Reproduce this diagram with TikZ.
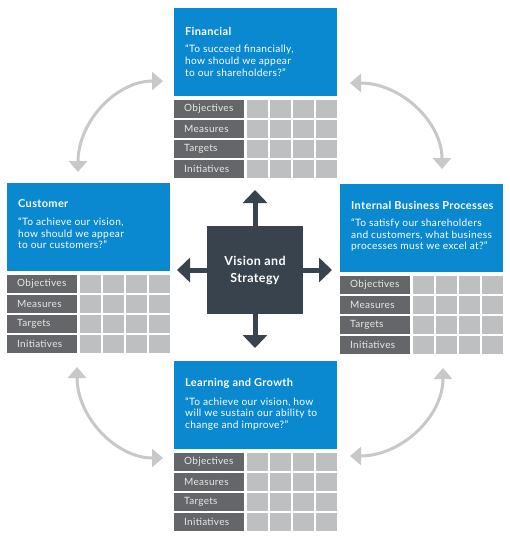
\documentclass[tikz,border=0pt]{standalone}
\usepackage{fontspec}
\setmainfont{Lato}[LetterSpace=3]
\usetikzlibrary{arrows.meta,calc}
\definecolor{bscblue}{HTML}{0A88D0}
\definecolor{labgray}{HTML}{646669}
\definecolor{cellgray}{HTML}{BEBFC1}
\definecolor{coregray}{HTML}{38434D}
\definecolor{curvegray}{HTML}{C8C8C8}
\definecolor{labtext}{HTML}{E8E8E8}
\tikzset{
  bluebox/.style={fill=bscblue, draw=none, minimum width=163pt, minimum height=88pt, inner sep=0pt, anchor=north west},
  titletext/.style={text=white, font=\fontsize{11}{12}\selectfont\bfseries, inner sep=0pt, anchor=west},
  quotetext/.style={text=white, font=\fontsize{10.2}{11.7}\selectfont, inner sep=0pt, anchor=north west, align=left},
  labelcell/.style={fill=labgray, text=labtext, font=\fontsize{10}{11}\selectfont, minimum width=70pt, minimum height=18pt, inner ysep=0pt, inner xsep=10pt, text width=50pt, align=left, anchor=north west},
  gridcell/.style={fill=cellgray, minimum width=21pt, minimum height=18pt, inner sep=0pt, anchor=north west},
  corebox/.style={fill=coregray, minimum width=96pt, minimum height=88pt, inner sep=0pt, text=white, align=center, font=\fontsize{12.5}{17}\selectfont\bfseries},
  bigarrow/.style={draw=coregray, line width=5pt, -{Triangle[width=24pt,length=13pt]}},
  curvearrow/.style={draw=curvegray, line width=3pt, {Triangle[width=18pt,length=11pt]}-{Triangle[width=18pt,length=11pt]}}
}
% #1 name, #2 x, #3 y, #4 title, #5 quote, #6 text offset
\newcommand\bscblock[6]{%
  \node[bluebox] (#1) at (#2,#3) {};
  \node[titletext] (#1-t) at ($(#1.north west)+(11,{21+#6})$) {#4};
  \node[quotetext] (#1-q) at ($(#1.north west)+(11,{34.5+#6})$) {#5};
  \foreach \lab [count=\k from 0] in {Objectives,Measures,Targets,Initiatives}{%
    \node[labelcell] (#1-l\k) at ({#2},{#3+91.5+20*\k}) {\lab};
    \foreach \j in {0,1,2,3}{%
      \node[gridcell] (#1-c\k-\j) at ({#2+73+23*\j},{#3+91.5+20*\k}) {};
    }
  }
}
\begin{document}
\begin{tikzpicture}[x=1pt,y=-1pt]
\useasboundingbox[fill=white] (0,0) rectangle (510,538);
\bscblock{fin}{174}{8}{Financial}{“To succeed financially,\\how should we appear\\to our shareholders?”}{2.5}
\bscblock{cus}{7}{183}{Customer}{“To achieve our vision,\\how should we appear\\to our customers?”}{0}
\bscblock{ibp}{340}{184}{Internal Business Processes}{“To satisfy our shareholders\\and customers, what business\\processes must we excel at?”}{0}
\bscblock{lg}{174}{361}{Learning and Growth}{“To achieve our vision, how\\will we sustain our ability to\\change and improve?”}{1.5}
% centre
\node[corebox] (vs) at (255,270) {Vision and\\Strategy};
\coordinate (vs-top) at (255,190);
\coordinate (vs-bot) at (255,348);
\coordinate (vs-lft) at (177,270);
\coordinate (vs-rgt) at (332,270);
\draw[bigarrow] (vs.north) -- (vs-top);
\draw[bigarrow] (vs.south) -- (vs-bot);
\draw[bigarrow] (vs.west) -- (vs-lft);
\draw[bigarrow] (vs.east) -- (vs-rgt);
% curved arrows
\coordinate (tl-a) at (78,172);
\coordinate (tl-b) at (163,81);
\coordinate (tr-a) at (350,83);
\coordinate (tr-b) at (442,169);
\coordinate (bl-a) at (77,367);
\coordinate (bl-b) at (163,458);
\coordinate (br-a) at (443,368);
\coordinate (br-b) at (350,456);
\draw[curvearrow] (tl-a) .. controls +(0,-50) and +(-47,0) .. (tl-b);
\draw[curvearrow] (tr-a) .. controls +(51,0) and +(0,-47) .. (tr-b);
\draw[curvearrow] (bl-a) .. controls +(0,50) and +(-47,0) .. (bl-b);
\draw[curvearrow] (br-a) .. controls +(0,49) and +(51,0) .. (br-b);
\end{tikzpicture}
\end{document}
